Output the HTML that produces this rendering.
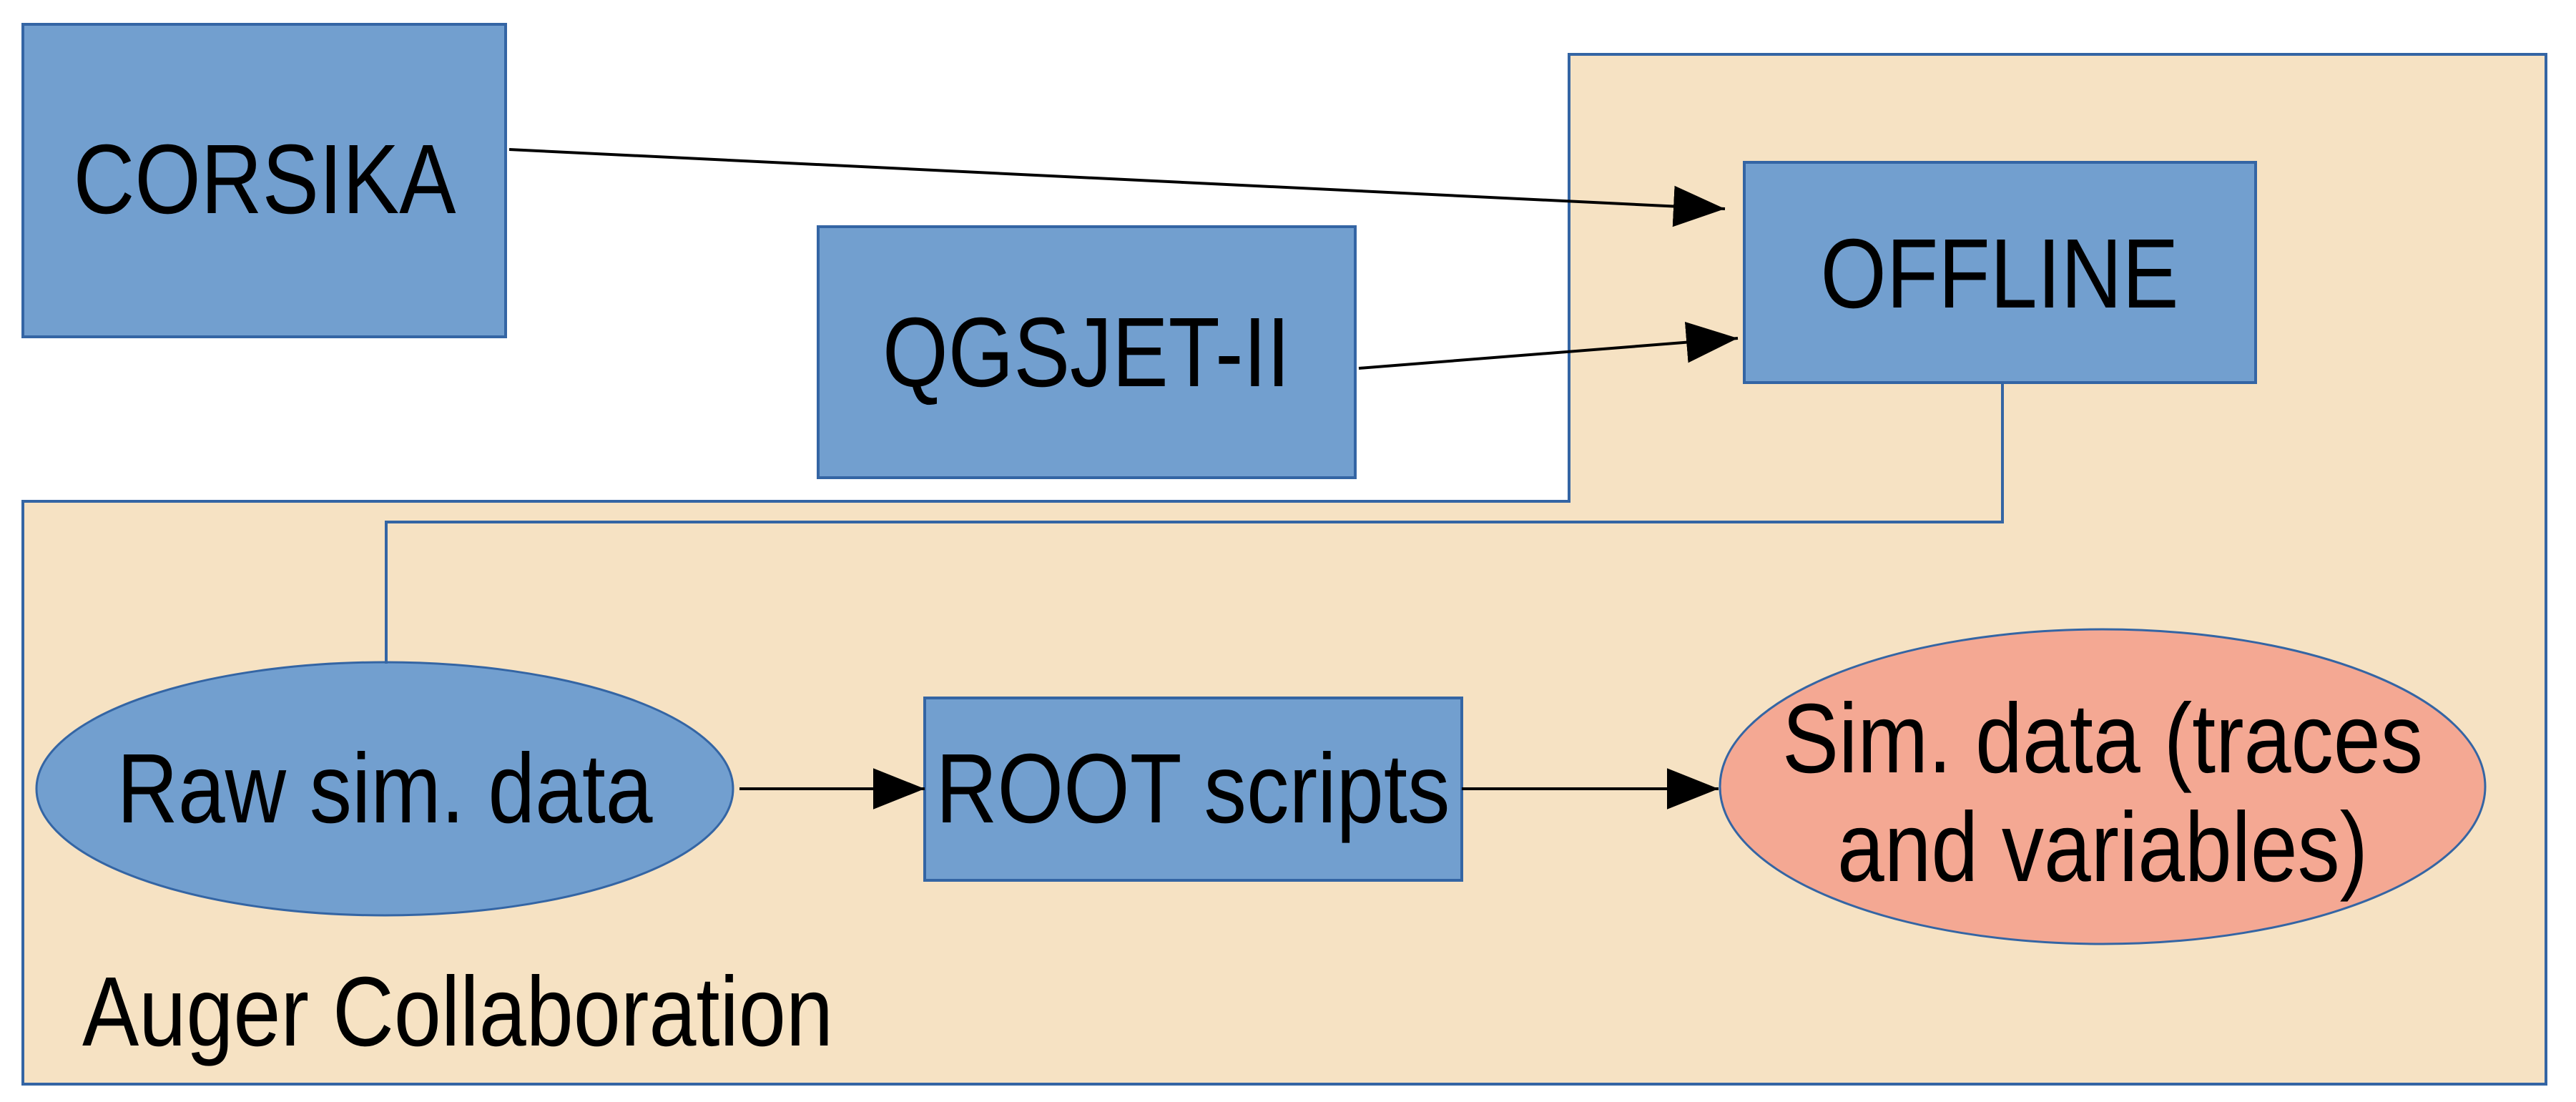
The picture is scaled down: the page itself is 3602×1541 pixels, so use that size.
<!DOCTYPE html>
<html><head><meta charset="utf-8"><style>html,body{margin:0;padding:0;background:#fff}</style></head>
<body>
<svg width="3602" height="1536" viewBox="0 0 3602 1536" xmlns="http://www.w3.org/2000/svg" font-family="Liberation Sans, sans-serif">
<defs>
<marker id="b" viewBox="0 0 10 10" refX="10" refY="5" markerWidth="72" markerHeight="72" orient="auto" markerUnits="userSpaceOnUse"><path d="M0,1 L10,5 L0,9 z" fill="#000"/></marker></defs>
<polygon points="2194,76 3560,76 3560,1516 32,1516 32,701 2194,701" fill="#f6e2c3" stroke="#3465a4" stroke-width="4"/>
<rect x="32" y="34" width="675" height="437" fill="#729fcf" stroke="#3465a4" stroke-width="4"/>
<rect x="1144" y="317" width="751" height="351" fill="#729fcf" stroke="#3465a4" stroke-width="4"/>
<rect x="2439" y="227" width="715" height="308" fill="#729fcf" stroke="#3465a4" stroke-width="4"/>
<rect x="1293" y="976" width="751" height="255" fill="#729fcf" stroke="#3465a4" stroke-width="4"/>
<ellipse cx="538" cy="1103" rx="487" ry="177" fill="#729fcf" stroke="#3465a4" stroke-width="3"/>
<ellipse cx="2940" cy="1100" rx="535" ry="220" fill="#f4a893" stroke="#3465a4" stroke-width="3"/>
<polyline points="2800,535 2800,730 540,730 540,928" fill="none" stroke="#3465a4" stroke-width="4"/>
<g stroke="#000" stroke-width="4" fill="none" marker-end="url(#b)">
<line x1="712" y1="209" x2="2412" y2="292"/>
<line x1="1900" y1="515" x2="2430" y2="473"/>
<line x1="1034" y1="1103" x2="1293" y2="1103"/>
<line x1="2044" y1="1103" x2="2403" y2="1103"/>
</g>
<g font-size="138" fill="#000" text-anchor="middle" lengthAdjust="spacingAndGlyphs">
<text x="370" y="298" textLength="535" lengthAdjust="spacingAndGlyphs">CORSIKA</text>
<text x="1519" y="540" textLength="570" lengthAdjust="spacingAndGlyphs">QGSJET-II</text>
<text x="2796" y="430" textLength="501" lengthAdjust="spacingAndGlyphs">OFFLINE</text>
<text x="538" y="1150" textLength="749" lengthAdjust="spacingAndGlyphs">Raw sim. data</text>
<text x="1668" y="1150" textLength="719" lengthAdjust="spacingAndGlyphs">ROOT scripts</text>
<text x="2940" y="1080" textLength="896" lengthAdjust="spacingAndGlyphs">Sim. data (traces</text>
<text x="2940" y="1232" textLength="742" lengthAdjust="spacingAndGlyphs">and variables)</text>
<text x="115" y="1462" text-anchor="start" textLength="1050" lengthAdjust="spacingAndGlyphs">Auger Collaboration</text>
</g>
</svg>
</body></html>
